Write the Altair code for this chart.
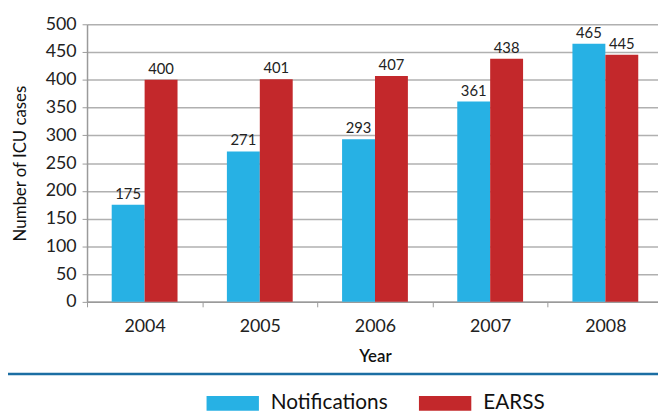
import altair as alt
import pandas as pd

years = ["2004", "2005", "2006", "2007", "2008"]
notifications = [175, 271, 293, 361, 465]
earss = [400, 401, 407, 438, 445]
series = ["Notifications", "EARSS"]
colors = ["#27b1e4", "#c3282b"]
y_ticks = [0, 50, 100, 150, 200, 250, 300, 350, 400, 450, 500]

rows = []
for i, yr in enumerate(years):
    rows.append({"Year": yr, "Series": series[0], "Cases": notifications[i]})
    rows.append({"Year": yr, "Series": series[1], "Cases": earss[i]})
df = pd.DataFrame(rows)

FONT = "Lato"

x_enc = alt.X(
    "Year:N",
    sort=years,
    scale=alt.Scale(range=[0, 583], paddingInner=0, paddingOuter=0),
    axis=alt.Axis(
        title="Year",
        labelAngle=0,
        tickBand="extent",
        tickSize=5,
        tickColor="#9a9a9a",
        domainColor="#9a9a9a",
        domainWidth=1.5,
        labelFontSize=18,
        labelPadding=11,
        labelColor="#222222",
        titleFontSize=17,
        titleFontWeight=600,
        titleColor="#111111",
        titlePadding=13,
        labelFont=FONT,
        titleFont=FONT,
    ),
)
xoff_enc = alt.XOffset("Series:N", sort=series, scale=alt.Scale(paddingOuter=0.75, paddingInner=0))
y_enc = alt.Y(
    "Cases:Q",
    scale=alt.Scale(domain=[0, 500], nice=False),
    axis=alt.Axis(
        title="Number of ICU cases",
        values=y_ticks,
        labelOverlap=False,
        tickSize=5,
        tickColor="#9a9a9a",
        domainColor="#9a9a9a",
        domainWidth=1.5,
        gridColor="#b0b0b0",
        gridWidth=1.5,
        labelFontSize=18,
        labelPadding=6,
        labelColor="#222222",
        titleFontSize=17,
        titleFontWeight="normal",
        titleColor="#111111",
        titlePadding=16,
        labelFont=FONT,
        titleFont=FONT,
    ),
)

base = alt.Chart(df).encode(x=x_enc, xOffset=xoff_enc, y=y_enc)

bars = base.mark_bar().encode(
    color=alt.Color(
        "Series:N",
        sort=series,
        scale=alt.Scale(domain=series, range=colors),
        legend=alt.Legend(
            title=None,
            orient="none",
            direction="horizontal",
            legendX=121,
            legendY=357,
            symbolType="M-1,-0.28L1,-0.28L1,0.28L-1,0.28Z",
            symbolSize=2809,
            symbolStrokeWidth=0,
            symbolOpacity=1,
            labelFontSize=21,
            labelFont=FONT,
            labelColor="#111111",
            labelOffset=12,
            columnPadding=31,
        ),
    ),
)

labels = base.mark_text(baseline="bottom", dy=-3, fontSize=15, font=FONT, color="#222222").encode(
    text="Cases:Q",
)

sep = alt.Chart(pd.DataFrame({"a": [0]})).mark_rule(color="#1b6ea3", strokeWidth=2.5).encode(
    x=alt.value(-80), x2=alt.value(578), y=alt.value(354)
)

chart = (
    alt.layer(bars, labels, sep)
    .properties(
        width=578,
        height=281,
        autosize=alt.AutoSizeParams(type="none"),
        padding={"left": 80, "top": 14, "right": 0, "bottom": 109},
    )
    .configure_view(stroke=None)
)

chart.save("out.html", embed_options={"renderer": "svg", "actions": False})
